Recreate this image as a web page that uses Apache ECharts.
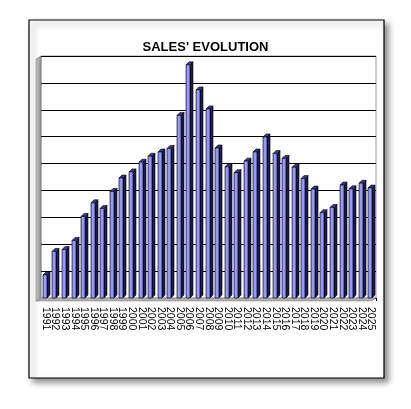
<!DOCTYPE html>
<html>
<head>
<meta charset="utf-8">
<script src="https://cdn.jsdelivr.net/npm/echarts@6/dist/echarts.min.js"></script>
<style>
  html, body { margin: 0; padding: 0; background: #fff; }
  #chart { width: 411px; height: 409px; }
</style>
</head>
<body>
<div id="chart"></div>
<script>
// years on the category axis
const years = [
  '1991', '1992', '1993', '1994', '1995', '1996', '1997', '1998', '1999', '2000',
  '2001', '2002', '2003', '2004', '2005', '2006', '2007', '2008', '2009', '2010',
  '2011', '2012', '2013', '2014', '2015', '2016', '2017', '2018', '2019', '2020',
  '2021', '2022', '2023', '2024', '2025'
];

// sales (one gridline = 1 unit)
const sales = [
  0.86, 1.73, 1.80, 2.14, 3.03, 3.54, 3.33, 3.96, 4.46, 4.69,
  5.05, 5.27, 5.43, 5.56, 6.79, 8.67, 7.74, 7.03, 5.58, 4.88,
  4.66, 5.09, 5.43, 5.99, 5.37, 5.19, 4.86, 4.44, 4.05, 3.17,
  3.37, 4.20, 4.06, 4.27, 4.09
];

const chart = echarts.init(document.getElementById('chart'));

// fake excel-style 3d column: front face + dark side + top
function renderBar(params, api) {
  const idx = api.value(0);
  const top = api.coord([idx, api.value(1)]);
  const base = api.coord([idx, 0]);
  const w = 4, d = 3;
  const x = Math.round(top[0]) - 3;
  const yt = top[1], yb = base[1];
  const line = { stroke: '#000', lineWidth: 0.6 };
  return {
    type: 'group',
    children: [
      {
        type: 'polygon',
        shape: { points: [[x + w, yt], [x + w + d, yt - d], [x + w + d, yb - d], [x + w, yb]] },
        style: Object.assign({ fill: '#1c1c4a' }, line)
      },
      {
        type: 'polygon',
        shape: { points: [[x, yt], [x + d, yt - d], [x + w + d, yt - d], [x + w, yt]] },
        style: Object.assign({ fill: '#3a3a8c' }, line)
      },
      {
        type: 'rect',
        shape: { x: x, y: yt, width: w, height: yb - yt },
        style: Object.assign({
          fill: new echarts.graphic.LinearGradient(0, 0, 1, 0, [
            { offset: 0, color: '#7777ee' },
            { offset: 0.5, color: '#a0a0ff' },
            { offset: 1, color: '#8080f0' }
          ])
        }, line)
      }
    ]
  };
}

const option = {
  backgroundColor: '#fff',
  animation: false,
  title: {
    text: "SALES' EVOLUTION",
    left: 'center',
    top: 36,
    textStyle: {
      fontFamily: 'Liberation Sans, Arial, sans-serif',
      fontSize: 13,
      fontWeight: 'bold',
      color: '#000'
    }
  },
  graphic: [
    {
      type: 'rect',
      z: -10,
      shape: { x: 29, y: 20, width: 355, height: 358 },
      style: {
        fill: '#fff',
        stroke: '#000',
        lineWidth: 1.2,
        shadowBlur: 6,
        shadowOffsetX: 4,
        shadowOffsetY: 4,
        shadowColor: 'rgba(0,0,0,0.45)'
      }
    },
    {
      // left side wall
      type: 'polygon',
      z: 1,
      shape: { points: [[36, 59], [41, 56], [41, 298], [36, 301]] },
      style: {
        fill: new echarts.graphic.LinearGradient(0, 0, 1, 0, [
          { offset: 0, color: '#c8c8c8' },
          { offset: 1, color: '#8c8c8c' }
        ]),
        stroke: '#777',
        lineWidth: 0.5
      }
    },
    {
      // floor
      type: 'polygon',
      z: 1,
      shape: { points: [[36, 301], [41, 298], [376, 298], [371, 301]] },
      style: { fill: '#b0b0b0', stroke: '#777', lineWidth: 0.5 }
    }
  ],
  grid: {
    left: 41,
    right: 35,
    top: 56,
    bottom: 111,
    show: true,
    borderColor: '#999',
    borderWidth: 1
  },
  xAxis: {
    type: 'category',
    data: years,
    offset: 3,
    axisLine: { lineStyle: { color: '#000', width: 1 } },
    axisTick: { show: true, length: 3, lineStyle: { color: '#000' } },
    axisLabel: {
      rotate: -90,
      interval: 0,
      margin: 6,
      fontFamily: 'Liberation Sans, Arial, sans-serif',
      fontSize: 10.5,
      color: '#000'
    }
  },
  yAxis: {
    type: 'value',
    min: 0,
    max: 9,
    interval: 1,
    axisLine: { show: false },
    axisTick: { show: false },
    axisLabel: { show: false },
    splitLine: { lineStyle: { color: '#000', width: 1 } }
  },
  series: [
    {
      type: 'custom',
      renderItem: renderBar,
      data: sales.map((v, i) => [i, v]),
      encode: { x: 0, y: 1 },
      z: 5
    }
  ]
};

chart.setOption(option);
</script>
</body>
</html>
